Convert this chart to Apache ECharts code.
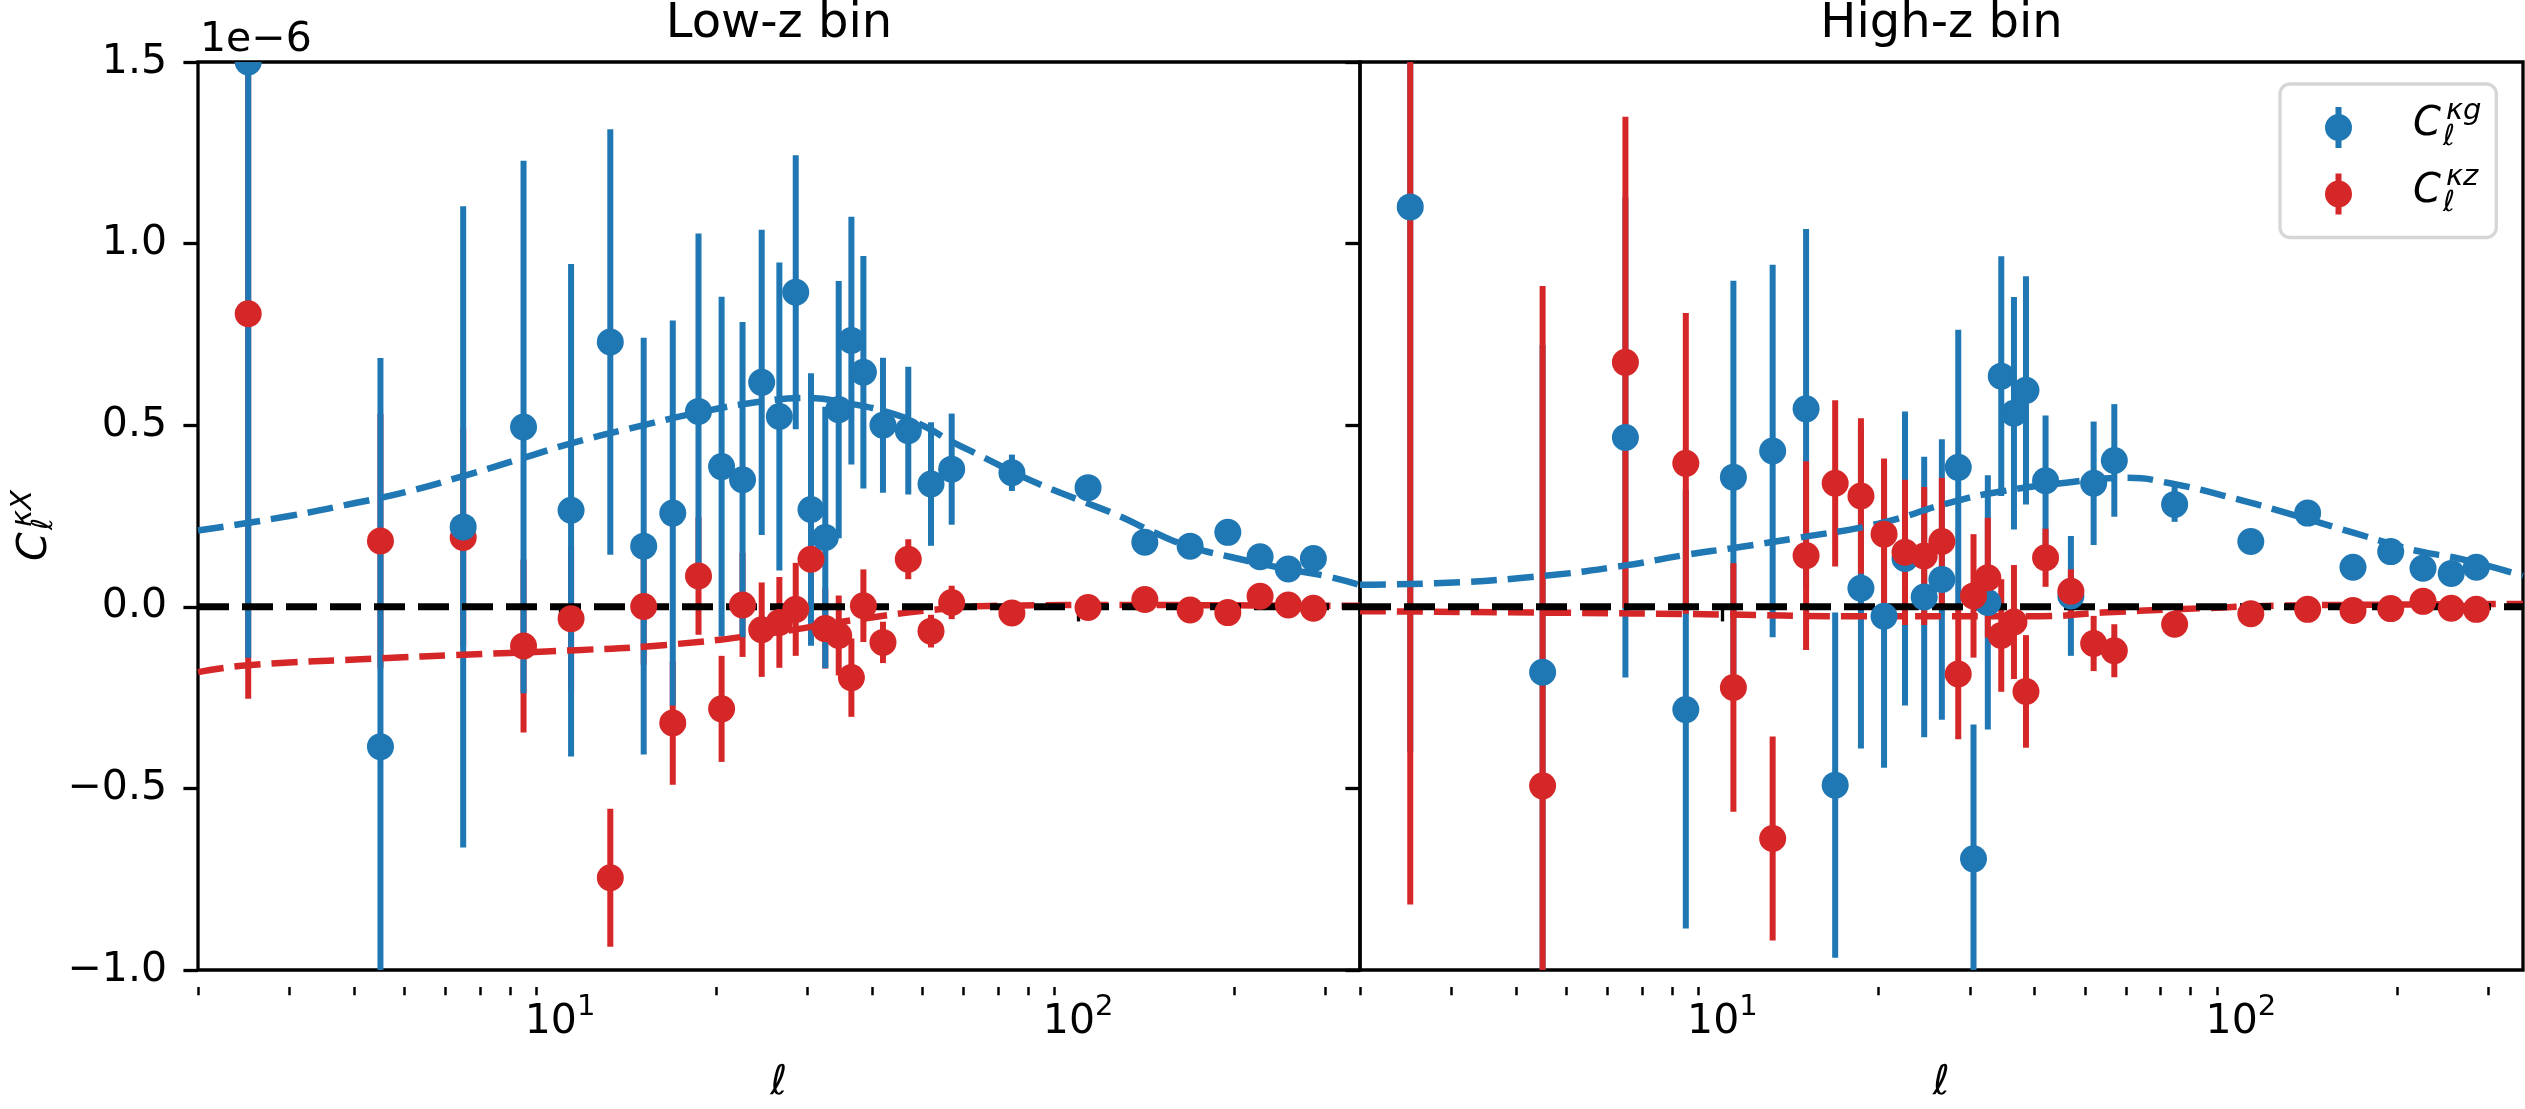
<!DOCTYPE html>
<html>
<head>
<meta charset="utf-8">
<title>Cross-correlation, low-z and high-z bins</title>
<script src="https://cdn.jsdelivr.net/npm/echarts@6/dist/echarts.min.js"></script>
<style>
    html, body { margin: 0; padding: 0; background: #fff; }
    #chart { width: 2525px; height: 1109px; }
</style>
</head>
<body>
<div id="chart"></div>
<script>
// multipole bin centres, same for both panels
const ells = [2.5, 4.5, 6.5, 8.5, 10.5, 12.5, 14.5, 16.5, 18.5, 20.5, 22.5, 24.5, 26.5, 28.5, 30.5, 32.5, 34.5, 36.5, 38.5,
    42, 47, 52, 57, 74.5, 104.5, 134.5, 164.5, 194.5, 224.5, 254.5, 284.5];

// low-z bin (units of 1e-6)
const lowKg = [1.50, -0.385, 0.220, 0.495, 0.266, 0.729, 0.167, 0.258, 0.538, 0.386, 0.350, 0.618, 0.524, 0.866, 0.268, 0.191, 0.543, 0.733, 0.646,
    0.500, 0.485, 0.338, 0.379, 0.369, 0.328, 0.178, 0.167, 0.205, 0.138, 0.104, 0.133];
const lowKgErr = [1.64, 1.07, 0.883, 0.733, 0.678, 0.586, 0.574, 0.53, 0.49, 0.468, 0.434, 0.42, 0.424, 0.377, 0.375, 0.36, 0.354, 0.341, 0.32,
    0.186, 0.176, 0.17, 0.153, 0.05, 0.03, 0.02, 0.015, 0.015, 0.012, 0.01, 0.01];
const lowKz = [0.807, 0.181, 0.191, -0.108, -0.033, -0.746, 0.001, -0.320, 0.085, -0.281, 0.005, -0.063, -0.043, -0.007, 0.131, -0.060, -0.079, -0.195, 0.003,
    -0.098, 0.131, -0.067, 0.012, -0.017, -0.002, 0.020, -0.009, -0.016, 0.029, 0.005, -0.004];
const lowKzErr = [1.06, 0.35, 0.30, 0.238, 0.20, 0.19, 0.16, 0.17, 0.162, 0.146, 0.143, 0.13, 0.125, 0.128, 0.12, 0.11, 0.11, 0.108, 0.10,
    0.057, 0.055, 0.045, 0.046, 0.03, 0.02, 0.015, 0.012, 0.01, 0.01, 0.008, 0.008];

// high-z bin (units of 1e-6)
const highKg = [1.101, -0.180, 0.466, -0.283, 0.357, 0.429, 0.545, -0.491, 0.051, -0.026, 0.133, 0.027, 0.075, 0.384, -0.694, 0.012, 0.635, 0.533, 0.596,
    0.347, 0.030, 0.340, 0.403, 0.282, 0.180, 0.258, 0.109, 0.152, 0.106, 0.092, 0.109];
const highKgErr = [1.5, 0.9, 0.661, 0.603, 0.541, 0.513, 0.495, 0.475, 0.441, 0.417, 0.405, 0.386, 0.386, 0.379, 0.37, 0.35, 0.33, 0.32, 0.314,
    0.18, 0.165, 0.17, 0.155, 0.048, 0.03, 0.02, 0.015, 0.012, 0.01, 0.01, 0.008];
const highKz = [1.70, -0.493, 0.673, 0.395, -0.222, -0.638, 0.141, 0.340, 0.305, 0.200, 0.150, 0.140, 0.180, -0.185, 0.030, 0.080, -0.079, -0.042, -0.233,
    0.135, 0.043, -0.101, -0.121, -0.048, -0.019, -0.007, -0.010, -0.005, 0.015, -0.004, -0.007];
const highKzErr = [2.52, 1.376, 0.676, 0.414, 0.342, 0.281, 0.26, 0.229, 0.214, 0.208, 0.20, 0.19, 0.175, 0.18, 0.17, 0.165, 0.155, 0.157, 0.155,
    0.08, 0.06, 0.076, 0.073, 0.03, 0.02, 0.015, 0.012, 0.01, 0.01, 0.008, 0.008];

// theory curves (dashed)
const lowModelKgEll = [2, 3, 4, 5, 6.5, 8.5, 10.5, 14.5, 18.5, 24.5, 30, 36, 43, 50, 57, 65, 75, 85, 100, 120, 140, 165, 200, 250, 300, 350];
const lowModelKg = [0.21, 0.25, 0.285, 0.315, 0.36, 0.41, 0.45, 0.50, 0.535, 0.565, 0.575, 0.56, 0.535, 0.50, 0.455, 0.415, 0.37, 0.335, 0.295, 0.25, 0.205, 0.165, 0.135, 0.105, 0.085, 0.06];
const lowModelKzEll = [2, 2.5, 4.5, 6.5, 10.5, 16, 25, 37, 54, 73, 120, 200, 350];
const lowModelKz = [-0.18, -0.161, -0.142, -0.132, -0.12, -0.105, -0.074, -0.036, -0.007, 0.003, 0.005, 0.004, 0.003];
const highModelKgEll = [2, 2.8, 4.5, 6.5, 8.5, 10.5, 14, 20, 27.5, 34, 45, 60, 73, 98, 129, 164, 217, 263, 350];
const highModelKg = [0.061, 0.065, 0.085, 0.114, 0.143, 0.162, 0.19, 0.229, 0.287, 0.316, 0.340, 0.355, 0.340, 0.297, 0.249, 0.205, 0.155, 0.133, 0.085];
const highModelKzEll = [2, 4.5, 10, 17, 34, 41, 54, 75, 119, 200, 350];
const highModelKz = [-0.012, -0.016, -0.021, -0.026, -0.026, -0.026, -0.016, -0.007, 0.003, 0.006, 0.008];

// reference line at zero, spans the x range
const zeroEll = [2, 350];

// axis ticks
const xMajor = [10, 100];
const xMinor = [2, 3, 4, 5, 6, 7, 8, 9, 20, 30, 40, 50, 60, 70, 80, 90, 200, 300];
const panelTitles = ['Low-z bin', 'High-z bin'];

const font = 'DejaVu Sans';
const blue = '#1f77b4';
const red = '#d62728';
const xMin = 2, xMax = 350;

const grids = [
    { left: 198, top: 62, width: 1162, height: 925 },
    { left: 1360, top: 62, width: 1163, height: 925 }
];

function pts(vals, errs) {
    return ells.map((l, i) => [l, vals[i], errs[i]]);
}

function barSeries(g, vals, errs, color, z) {
    return {
        type: 'custom', xAxisIndex: 2 * g, yAxisIndex: g, clip: true, silent: true, z,
        data: pts(vals, errs),
        encode: { x: 0, y: 1 },
        renderItem(params, api) {
            const lo = api.coord([api.value(0), api.value(1) - api.value(2)]);
            const hi = api.coord([api.value(0), api.value(1) + api.value(2)]);
            return {
                type: 'line',
                shape: { x1: lo[0], y1: lo[1], x2: hi[0], y2: hi[1] },
                style: { stroke: color, lineWidth: 6 }
            };
        }
    };
}

function dotSeries(name, g, vals, errs, color, z) {
    return {
        type: 'custom', name, xAxisIndex: 2 * g, yAxisIndex: g, clip: true, silent: true, z,
        itemStyle: { color },
        data: pts(vals, errs),
        encode: { x: 0, y: 1 },
        renderItem(params, api) {
            const c = api.coord([api.value(0), api.value(1)]);
            return { type: 'circle', shape: { cx: c[0], cy: c[1], r: 13.5 }, style: { fill: color } };
        }
    };
}

function modelSeries(g, xs, ys, color) {
    return {
        type: 'line', xAxisIndex: 2 * g, yAxisIndex: g, silent: true, z: 3,
        data: xs.map((x, i) => [x, ys[i]]),
        smooth: true, symbol: 'none',
        lineStyle: { color, width: 6.5, type: [26, 11] }
    };
}

function zeroSeries(g) {
    return {
        type: 'line', xAxisIndex: 2 * g, yAxisIndex: g, silent: true, z: 4,
        data: zeroEll.map(x => [x, 0]),
        symbol: 'none',
        lineStyle: { color: '#000', width: 7, type: [31, 13] }
    };
}

const xAxes = [];
grids.forEach((gr, g) => {
    // major ticks + labels
    xAxes.push({
        type: 'log', logBase: 10, gridIndex: g, min: xMin, max: xMax, position: 'bottom',
        axisLine: { show: false },
        splitLine: { show: false },
        axisTick: { show: true, length: 14.6, lineStyle: { width: 3.3, color: '#000' }, customValues: xMajor },
        axisLabel: {
            customValues: xMajor, margin: 23, color: '#000',
            formatter: v => '{b|10}{s|' + Math.round(Math.log10(v)) + '}',
            rich: {
                b: { fontSize: 41, fontFamily: font, color: '#000', verticalAlign: 'bottom', lineHeight: 50 },
                s: { fontSize: 29, fontFamily: font, color: '#000', verticalAlign: 'top', lineHeight: 29 }
            }
        },
        name: 'ℓ', nameLocation: 'middle', nameGap: 93,
        nameTextStyle: { fontSize: 41, fontStyle: 'italic', fontFamily: font, color: '#000' }
    });
    // minor ticks: a top axis shifted down onto the bottom edge, ticks pointing down
    xAxes.push({
        type: 'log', logBase: 10, gridIndex: g, min: xMin, max: xMax, position: 'top', offset: -gr.height,
        axisLine: { show: false },
        splitLine: { show: false },
        axisTick: { show: true, inside: true, length: 8.3, lineStyle: { width: 2.5, color: '#000' }, customValues: xMinor },
        axisLabel: { show: false }
    });
});

const yAxes = grids.map((gr, g) => ({
    type: 'value', gridIndex: g, min: -1.0, max: 1.5, interval: 0.5, position: 'left',
    axisLine: { show: false },
    splitLine: { show: false },
    axisTick: { show: true, length: 14.6, lineStyle: { width: 3.3, color: '#000' } },
    axisLabel: {
        show: g === 0, margin: 31, fontSize: 41, fontFamily: font, color: '#000',
        formatter: v => (v < 0 ? '\u2212' : '') + Math.abs(v).toFixed(1)
    }
}));

const series = [
    // low-z: red under blue
    barSeries(0, lowKz, lowKzErr, red, 2),
    barSeries(0, lowKg, lowKgErr, blue, 2),
    modelSeries(0, lowModelKgEll, lowModelKg, blue),
    modelSeries(0, lowModelKzEll, lowModelKz, red),
    zeroSeries(0),
    dotSeries('kz', 0, lowKz, lowKzErr, red, 5),
    dotSeries('kg', 0, lowKg, lowKgErr, blue, 5),
    // high-z: blue under red
    barSeries(1, highKg, highKgErr, blue, 2),
    barSeries(1, highKz, highKzErr, red, 2),
    modelSeries(1, highModelKgEll, highModelKg, blue),
    modelSeries(1, highModelKzEll, highModelKz, red),
    zeroSeries(1),
    dotSeries('kg', 1, highKg, highKgErr, blue, 5),
    dotSeries('kz', 1, highKz, highKzErr, red, 5)
];

// errorbar style legend handle: dot with a short vertical bar
const ebIcon = 'path://M10.5,0H16.5V41H10.5Z M0,20.5A13.5,13.5,0,1,1,27,20.5A13.5,13.5,0,1,1,0,20.5Z';

// math-style text pieces: C with sub ell and sup
function mathLabel(x, base, sup) {
    return [
        { type: 'text', z: 100, x: x, y: base - 12, style: { text: 'C', fontSize: 40, fontStyle: 'italic', fontFamily: font, fill: '#000', verticalAlign: 'middle' } },
        { type: 'text', z: 100, x: x + 33, y: base - 17 - 8.6, style: { text: sup, fontSize: 29, fontStyle: 'italic', fontFamily: font, fill: '#000', verticalAlign: 'middle' } },
        { type: 'text', z: 100, x: x + 30, y: base + 9 - 8.6, style: { text: 'ℓ', fontSize: 29, fontStyle: 'italic', fontFamily: font, fill: '#000', verticalAlign: 'middle' } }
    ];
}

const graphic = [
    { type: 'text', x: 200, y: 40, style: { text: '1e\u22126', fontSize: 41, fontFamily: font, fill: '#000', verticalAlign: 'middle' } },
    {
        type: 'group', x: 47, y: 561, rotation: Math.PI / 2,
        children: [
            { type: 'text', x: 0, y: -12, style: { text: 'C', fontSize: 41, fontStyle: 'italic', fontFamily: font, fill: '#000', verticalAlign: 'middle' } },
            { type: 'text', x: 34, y: -15 - 8.6, style: { text: 'κX', fontSize: 29, fontStyle: 'italic', fontFamily: font, fill: '#000', verticalAlign: 'middle' } },
            { type: 'text', x: 31, y: 6 - 8.6, style: { text: 'ℓ', fontSize: 29, fontStyle: 'italic', fontFamily: font, fill: '#000', verticalAlign: 'middle' } }
        ]
    }
].concat(
    grids.map((gr, g) => ({
        type: 'text', x: gr.left + gr.width / 2, y: 25,
        style: { text: panelTitles[g], fontSize: 48, fontFamily: font, fill: '#000', align: 'center', verticalAlign: 'middle' }
    })),
    mathLabel(2413, 137, 'κg'),
    mathLabel(2413, 203.5, 'κz')
);

const chart = echarts.init(document.getElementById('chart'), null, { renderer: 'canvas' });
chart.setOption({
    animation: false,
    backgroundColor: '#fff',
    grid: grids.map(gr => Object.assign({ show: true, borderColor: '#000', borderWidth: 3.3, containLabel: false }, gr)),
    xAxis: xAxes,
    yAxis: yAxes,
    legend: {
        left: 2280, top: 84, orient: 'vertical', z: 6,
        padding: [23, 22, 23, 45],
        itemWidth: 27, itemHeight: 41, itemGap: 25.5,
        selectedMode: false,
        backgroundColor: 'rgba(255,255,255,0.8)',
        borderColor: '#d6d6d6', borderWidth: 3.3, borderRadius: 10,
        data: [{ name: 'kg', icon: ebIcon }, { name: 'kz', icon: ebIcon }],
        // blank text only reserves room; the math labels are drawn as graphic text
        formatter: () => '\u00a0'.repeat(9),
        textStyle: { fontSize: 41, fontFamily: font, color: '#000' }
    },
    graphic,
    series
});
</script>
</body>
</html>
